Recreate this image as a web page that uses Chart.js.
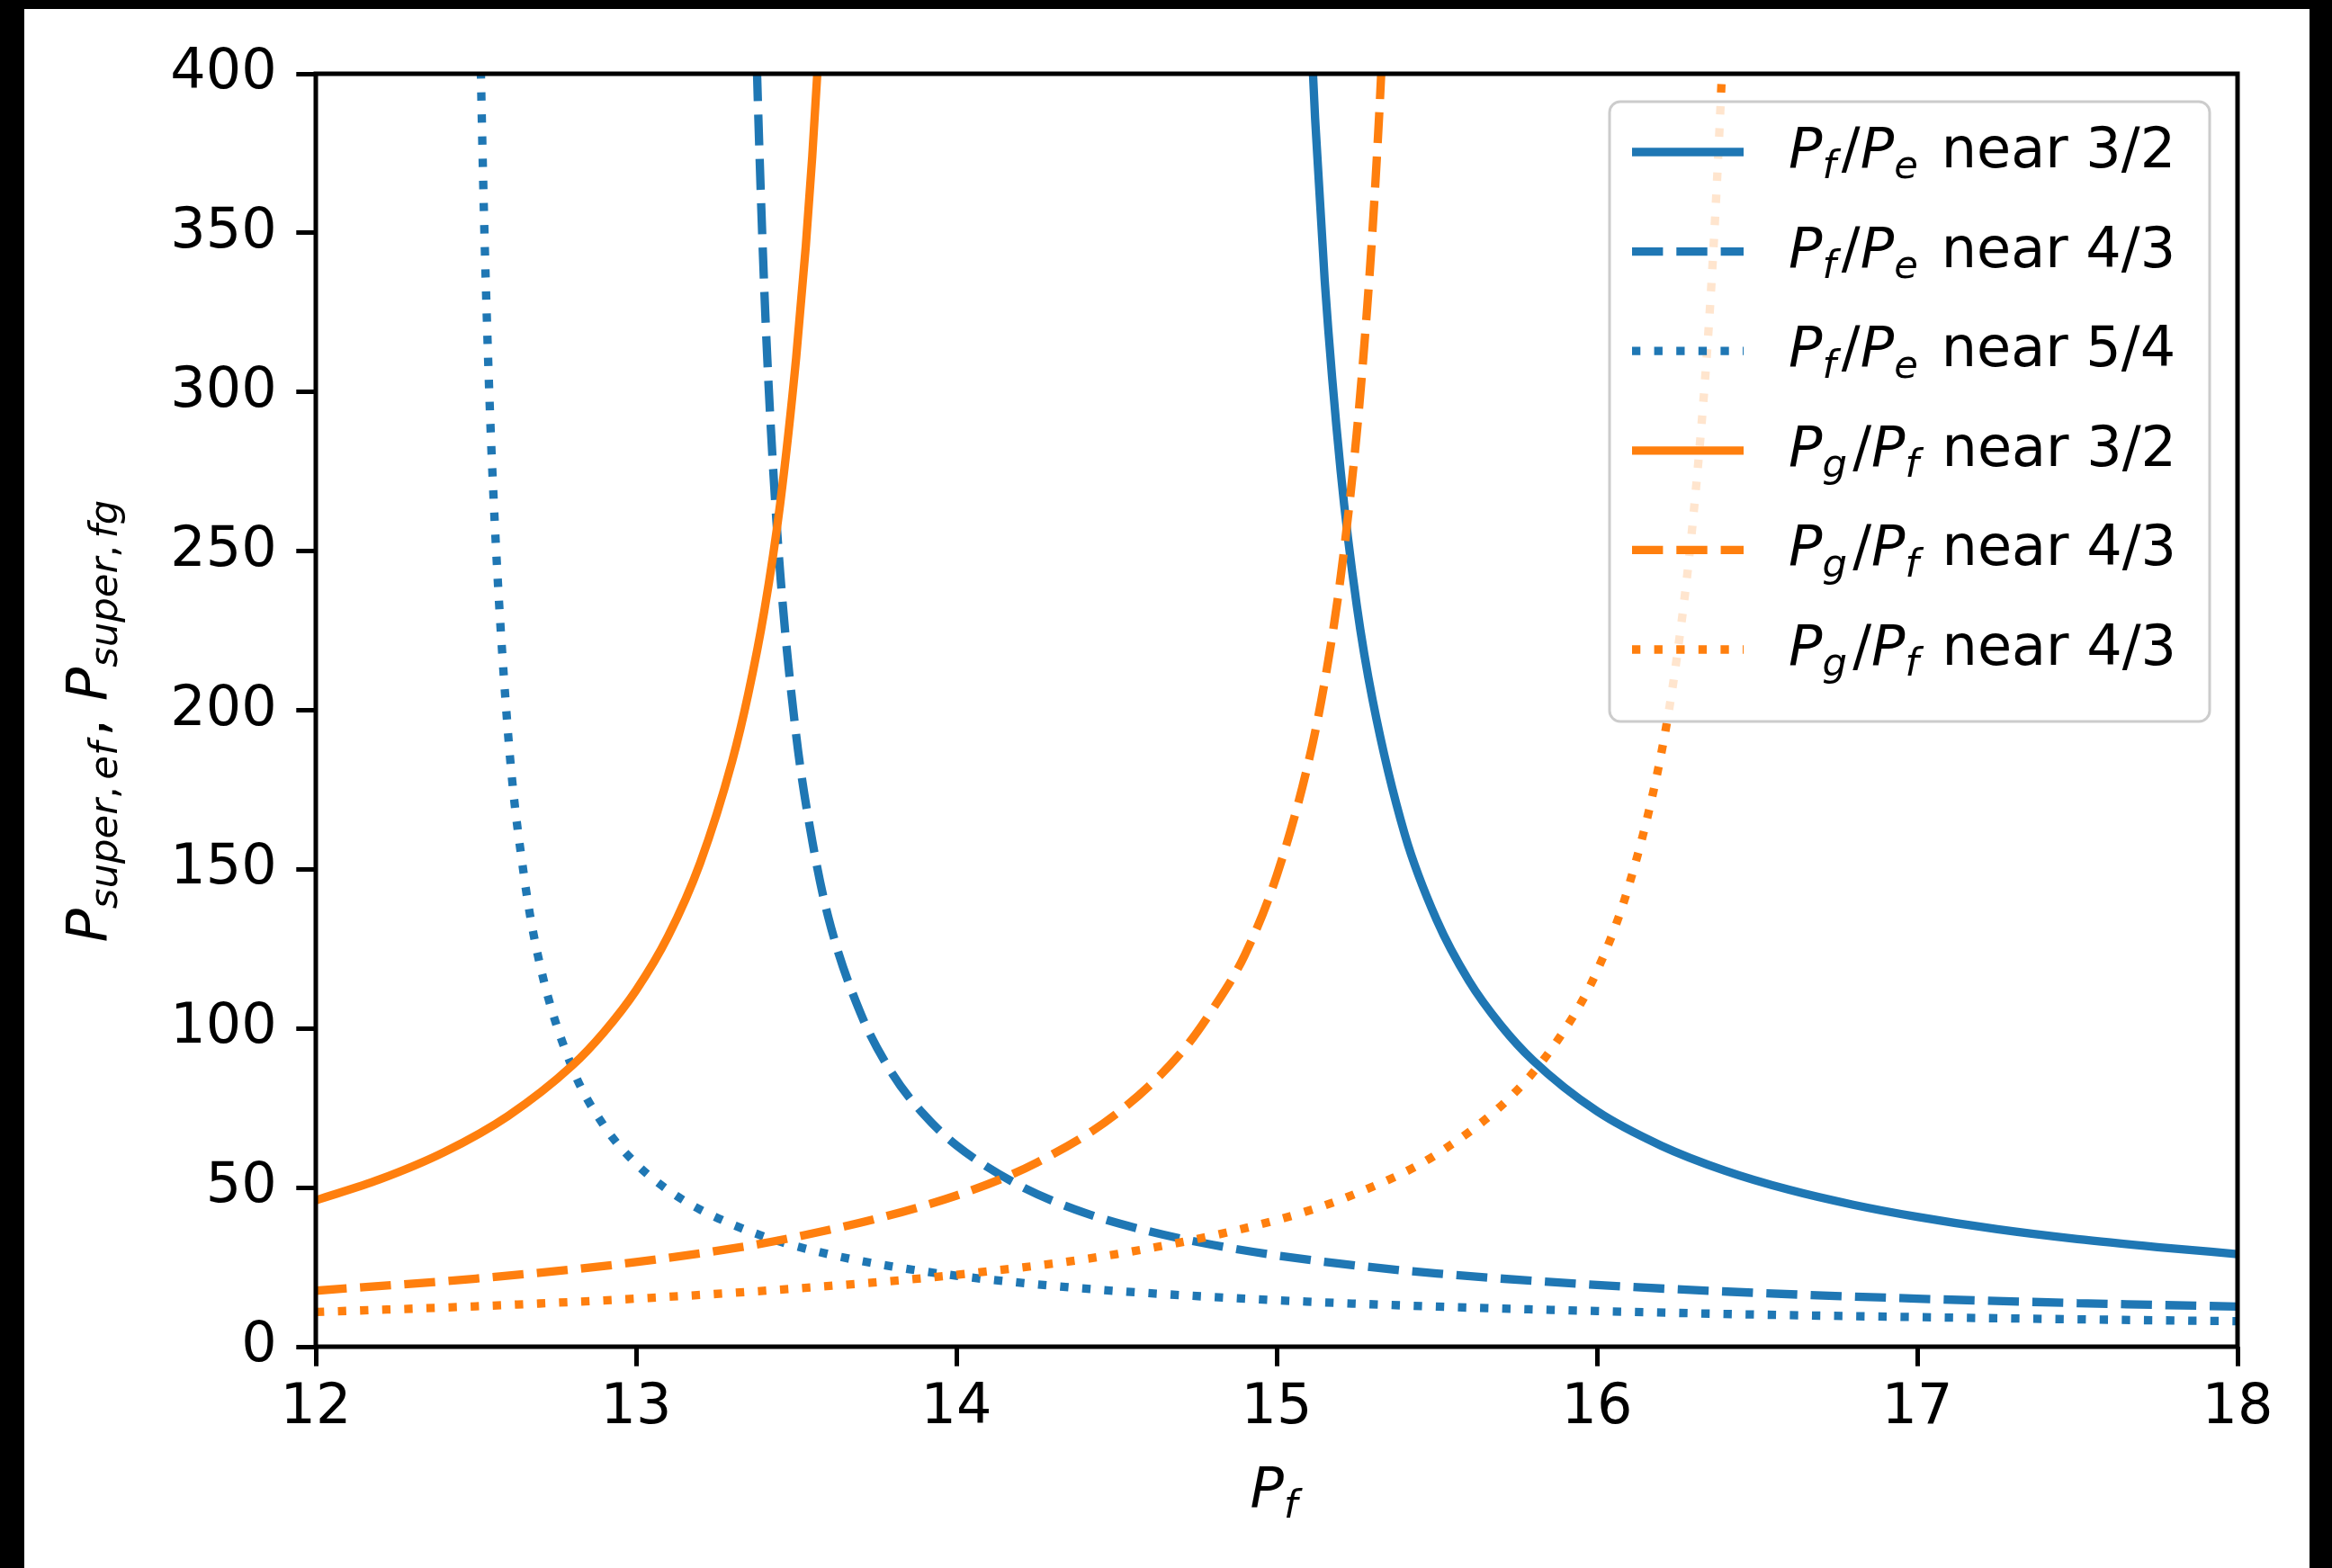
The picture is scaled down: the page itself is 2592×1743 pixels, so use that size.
<!DOCTYPE html>
<html><head><meta charset="utf-8">
<script src="https://cdn.jsdelivr.net/npm/chart.js@4.4.1/dist/chart.umd.min.js"></script>
<style>
html,body{margin:0;padding:0;background:#000;width:2592px;height:1743px;overflow:hidden}
#wrap{position:absolute;left:27px;top:10px;width:2540px;height:1733px;background:#fff}
canvas{display:block}
</style></head><body>
<div id="wrap"><canvas id="c" width="2540" height="1733"></canvas></div>
<script>
// ---- tick labels / axes ----
const xTickValues = [12, 13, 14, 15, 16, 17, 18];
const yTickValues = [0, 50, 100, 150, 200, 250, 300, 350, 400];
const xTitle = '$P_f$';
const yTitle = '$P_{super, ef}$, $P_{super, fg}$';

// ---- series labels ----
const seriesLabels = [
  '$P_f/P_e$ near 3/2',
  '$P_f/P_e$ near 4/3',
  '$P_f/P_e$ near 5/4',
  '$P_g/P_f$ near 3/2',
  '$P_g/P_f$ near 4/3',
  '$P_g/P_f$ near 4/3'
];

// ---- series values ----
const blueSolidX = [15.10,15.12,15.15,15.2,15.25,15.3,15.4,15.5,15.6,15.7,15.8,16.0,16.2,16.4,16.6,16.8,17.0,17.25,17.5,17.75,18.0];
const blueSolidY = [429,386,335,275,233,203,161,134,115,101,90,74,63.2,55.3,49.3,44.6,40.8,36.9,33.8,31.3,29.1];

const blueDashX = [13.37,13.38,13.40,13.42,13.45,13.5,13.55,13.6,13.7,13.8,13.9,14.0,14.2,14.4,14.6,14.8,15.0,15.25,15.5,16.0,16.5,17.0,17.5,18.0];
const blueDashY = [429,392,333,290,243,192,159,135,105,85.8,72.8,63.3,50.5,42.1,36.3,32.0,28.7,25.5,23.0,19.4,16.9,15.1,13.7,12.6];

const blueDotX = [12.51,12.52,12.53,12.55,12.6,12.65,12.7,12.8,12.9,13.0,13.1,13.2,13.4,13.6,13.8,14.0,14.25,14.5,15,15.5,16,16.5,17,17.5,18];
const blueDotY = [429,378,337,278,193,148,120,87.8,69.4,57.5,49.2,43.1,34.6,29.1,25.2,22.3,19.6,17.5,14.6,12.6,11.2,10.1,9.3,8.6,8.0];

const orangeSolidX = [12.0,12.2,12.4,12.6,12.8,12.9,13.0,13.1,13.2,13.3,13.35,13.4,13.45,13.5,13.53,13.55,13.57,13.59];
const orangeSolidY = [46.0,52.6,61.1,72.5,88.3,98.9,112,129,152,184,205,231,265,311,346,374,407,447];

const orangeDashX = [12,12.5,13,13.5,14,14.25,14.5,14.7,14.8,14.9,15.0,15.1,15.15,15.2,15.25,15.28,15.3,15.32,15.34];
const orangeDashY = [17.6,21.4,26.6,34.5,47.5,57.8,73.2,92.2,106,123,148,184,209,242,287,323,352,387,429];

const orangeDotX = [12,12.5,13,13.5,14,14.5,15,15.25,15.5,15.75,15.9,16.0,16.1,16.2,16.25,16.3,16.35,16.38,16.4];
const orangeDotY = [10.9,12.7,15.1,18.3,22.6,29.1,39.8,48.2,60.5,80.5,99.7,118,145,186,217,260,322,377,424];

// ---- styles ----
const BLUE = '#1f77b4', ORANGE = '#ff7f0e';
const LW = 9.3;
const DASH = [34.4, 14.9];
const DOT = [9.3, 15.3];
const F = 62;           // font size (px)
const FONT = '"DejaVu Sans"';

const seriesX = [blueSolidX, blueDashX, blueDotX, orangeSolidX, orangeDashX, orangeDotX];
const seriesY = [blueSolidY, blueDashY, blueDotY, orangeSolidY, orangeDashY, orangeDotY];
const seriesColor = [BLUE, BLUE, BLUE, ORANGE, ORANGE, ORANGE];
const seriesDash = [[], DASH, DOT, [], DASH, DOT];

const datasets = seriesX.map((xs, i) => ({
  label: seriesLabels[i],
  data: xs.map((x, j) => ({x: x, y: seriesY[i][j]})),
  borderColor: seriesColor[i],
  borderWidth: LW,
  borderDash: seriesDash[i],
  borderCapStyle: 'butt',
  borderJoinStyle: 'round',
  cubicInterpolationMode: 'monotone',
  pointRadius: 0,
  fill: false,
  clip: 0,
  order: 6 - i
}));

// ---- mini mathtext ----
function parseMath(str){
  const runs = []; let math = false; let i = 0;
  const push = (t, it, sub, m) => {
    const last = runs[runs.length-1];
    if (last && last.it === it && last.sub === sub && last.math === m && !last.end && !last.gap) last.t += t;
    else runs.push({t, it, sub, math: m, end: false, gap: false});
  };
  while (i < str.length){
    const c = str[i];
    if (c === '$'){ math = !math; i++; continue; }
    if (math && c === '_'){
      i++; let grp = '';
      if (str[i] === '{'){ i++; while (str[i] !== '}'){ grp += str[i]; i++; } i++; }
      else { grp = str[i]; i++; }
      for (const ch of grp){
        if (ch === ' ') continue;
        push(ch, /[A-Za-z]/.test(ch), true, true);
        if (ch === ',') runs[runs.length-1].gap = true;   // punctuation space
      }
      runs[runs.length-1].end = true;   // script space after subscript group
      continue;
    }
    if (math && c === ' '){ i++; continue; }
    push(c, math && /[A-Za-z]/.test(c), false, math);
    i++;
  }
  return runs;
}
function runFont(r, size){ return (r.it ? 'italic ' : '') + (r.sub ? size*0.7 : size) + 'px ' + FONT; }
function runWidth(ctx, r, size){
  ctx.font = runFont(r, size);
  return ctx.measureText(r.t).width + (r.end ? size*0.1 : 0) + (r.gap ? size*0.12 : 0);
}
function measureRuns(ctx, runs, size){
  let w = 0;
  for (const r of runs) w += runWidth(ctx, r, size);
  return w;
}
function drawRuns(ctx, runs, x, y, size){
  ctx.textBaseline = 'alphabetic'; ctx.textAlign = 'left';
  for (const r of runs){
    const w = runWidth(ctx, r, size);
    ctx.font = runFont(r, size);
    ctx.fillText(r.t, x, y + (r.sub ? size*0.2 : 0));
    x += w;
  }
  return x;
}

// ---- plugins ----
const framePlugin = {
  id: 'frame',
  afterDatasetsDraw(chart){
    const {ctx, chartArea: a} = chart;
    ctx.save();
    ctx.strokeStyle = '#000'; ctx.lineWidth = 5;
    ctx.strokeRect(a.left, a.top, a.right - a.left, a.bottom - a.top);
    ctx.restore();
  },
  afterDraw(chart){
    const {ctx, chartArea: a} = chart;
    ctx.save();
    ctx.fillStyle = '#000';
    // x title
    const xr = parseMath(xTitle);
    const xw = measureRuns(ctx, xr, F);
    drawRuns(ctx, xr, (a.left + a.right)/2 - xw/2, 1665, F);
    // y title (rotated)
    const yr = parseMath(yTitle);
    const yw = measureRuns(ctx, yr, F);
    ctx.save();
    ctx.translate(91, (a.top + a.bottom)/2 + 9);
    ctx.rotate(-Math.PI/2);
    drawRuns(ctx, yr, -yw/2, 0, F);
    ctx.restore();

    // legend
    const bx = 1762, by = 103, bw = 2429 - 1762, bh = 792 - 103;
    ctx.beginPath();
    ctx.roundRect(bx, by, bw, bh, 12);
    ctx.fillStyle = 'rgba(255,255,255,0.8)';
    ctx.fill();
    ctx.strokeStyle = '#cccccc'; ctx.lineWidth = 3;
    ctx.stroke();
    for (let i = 0; i < seriesLabels.length; i++){
      const ry = 159 + i*110.6;
      ctx.beginPath();
      ctx.setLineDash(seriesDash[i]);
      ctx.lineCap = 'butt';
      ctx.strokeStyle = seriesColor[i]; ctx.lineWidth = LW;
      ctx.moveTo(1787, ry); ctx.lineTo(1911, ry);
      ctx.stroke();
      ctx.setLineDash([]);
      ctx.fillStyle = '#000';
      drawRuns(ctx, parseMath(seriesLabels[i]), 1961, ry + 17, F);
    }
    ctx.restore();
  }
};

const tickFont = {family: 'DejaVu Sans', size: F};
new Chart(document.getElementById('c'), {
  type: 'line',
  data: {datasets},
  options: {
    responsive: false,
    animation: false,
    devicePixelRatio: 1,
    layout: {padding: {left: 0, top: 72, right: 80, bottom: 0}},
    plugins: {legend: {display: false}, tooltip: {enabled: false}},
    scales: {
      x: {
        type: 'linear', min: 12, max: 18,
        afterBuildTicks: s => { s.ticks = xTickValues.map(v => ({value: v})); },
        afterFit: s => { s.height = 246; },
        ticks: {font: tickFont, color: '#000', padding: 10, maxRotation: 0, autoSkip: false},
        grid: {drawOnChartArea: false, drawTicks: true, tickLength: 21.7, tickWidth: 5, tickColor: '#000', color: '#000'},
        border: {display: false}
      },
      y: {
        type: 'linear', min: 0, max: 400,
        afterBuildTicks: s => { s.ticks = yTickValues.map(v => ({value: v})); },
        afterFit: s => { s.width = 324; },
        ticks: {font: tickFont, color: '#000', padding: 21.7, autoSkip: false},
        grid: {drawOnChartArea: false, drawTicks: true, tickLength: 21.7, tickWidth: 5, tickColor: '#000', color: '#000'},
        border: {display: false}
      }
    }
  },
  plugins: [framePlugin]
});
</script>
</body></html>
